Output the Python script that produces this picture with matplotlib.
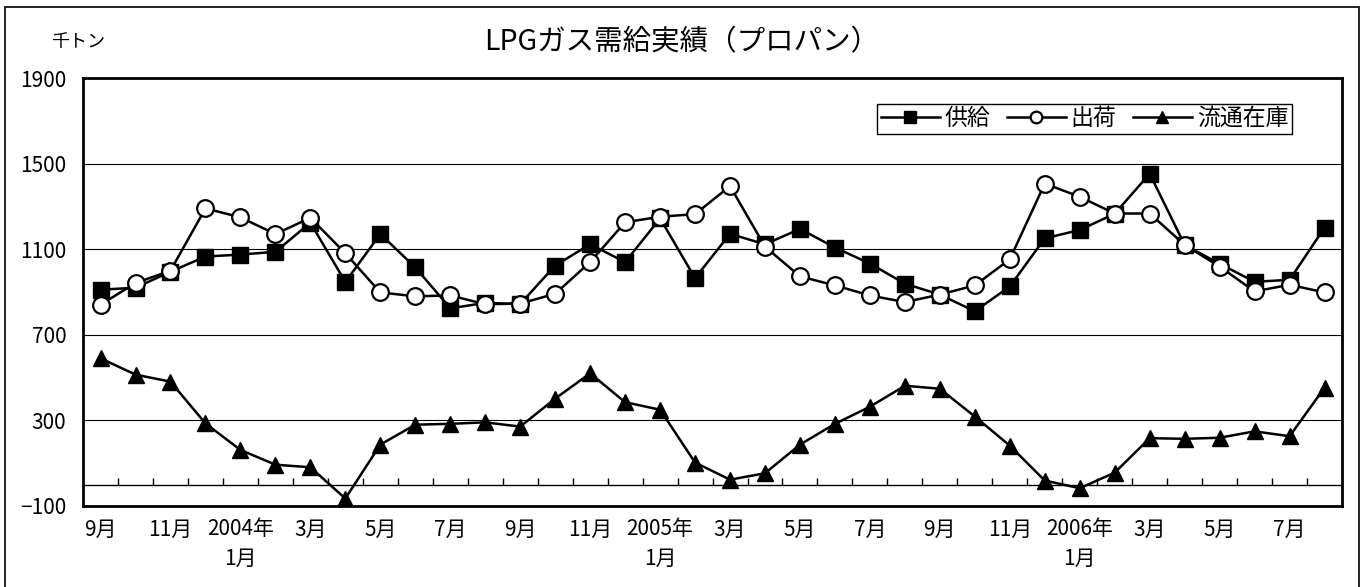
import matplotlib
matplotlib.use("Agg")
import matplotlib.pyplot as plt
from matplotlib.patches import Rectangle

plt.rcParams['font.family'] = ['Noto Sans CJK JP', 'DejaVu Sans']

# 2003年9月 ~ 2006年8月
meses = ['9月', '', '11月', '', '2004年\n1月', '', '3月', '', '5月', '', '7月', '',
         '9月', '', '11月', '', '2005年\n1月', '', '3月', '', '5月', '', '7月', '',
         '9月', '', '11月', '', '2006年\n1月', '', '3月', '', '5月', '', '7月', '']

kyokyu = [911, 920, 995, 1066, 1075, 1088, 1224, 947, 1171, 1015, 824, 849,
          844, 1024, 1123, 1040, 1244, 965, 1172, 1123, 1195, 1108, 1033, 939,
          888, 810, 926, 1151, 1190, 1266, 1453, 1120, 1032, 948, 957, 1201]

shukka = [841, 942, 1000, 1291, 1249, 1171, 1247, 1081, 898, 880, 884, 843,
          846, 892, 1040, 1226, 1252, 1264, 1395, 1112, 973, 931, 884, 853,
          888, 931, 1053, 1407, 1345, 1267, 1267, 1120, 1019, 903, 934, 898]

zaiko = [590, 514, 481, 286, 162, 93, 81, -65, 187, 280, 284, 291,
         271, 402, 520, 385, 350, 103, 23, 53, 187, 284, 364, 462,
         448, 318, 182, 19, -17, 56, 217, 214, 219, 249, 226, 453]

x = list(range(len(meses)))

fig = plt.figure(figsize=(13.64, 5.87), dpi=100)
ax = fig.add_axes([0.0609, 0.138, 0.9230, 0.729])

ax.plot(x, kyokyu, color='black', lw=1.8, marker='s', ms=12, mfc='black', mec='black', label='供給')
ax.plot(x, shukka, color='black', lw=1.8, marker='o', ms=12, mfc='white', mec='black', mew=1.6, label='出荷')
ax.plot(x, zaiko, color='black', lw=1.8, marker='^', ms=12, mfc='black', mec='black', label='流通在庫')

ax.set_xlim(-0.5, len(meses) - 0.5)
ax.set_ylim(-100, 1900)
ax.set_yticks([-100, 300, 700, 1100, 1500, 1900])
for g in [300, 700, 1100, 1500]:
    ax.axhline(g, color='black', lw=0.8, zorder=0)

ax.set_xticks(x)
ax.set_xticklabels(meses, linespacing=1.45)
ax.tick_params(axis='x', length=0, pad=9, labelsize=15)
ax.tick_params(axis='y', length=0, pad=12, labelsize=15)
for s in ax.spines.values():
    s.set_linewidth(2)

# eje en cero con marcas entre categorias
ax2 = ax.twiny()
ax2.set_xlim(ax.get_xlim())
ax2.spines['bottom'].set_position(('data', 0))
ax2.spines['bottom'].set_linewidth(1)
for lado in ['top', 'left', 'right']:
    ax2.spines[lado].set_visible(False)
ax2.xaxis.set_ticks_position('bottom')
ax2.set_xticks([i + 0.5 for i in x[:-1]])
ax2.tick_params(axis='x', direction='in', length=5, width=1, labelbottom=False, labeltop=False)

leg = ax.legend(loc='upper right', bbox_to_anchor=(0.960, 0.940), ncol=3, fontsize=16.5,
                frameon=True, fancybox=False, edgecolor='black', framealpha=1,
                handlelength=2.6, handletextpad=0.2, columnspacing=0.7,
                borderpad=0.15, borderaxespad=0, markerscale=0.7)
leg.get_frame().set_linewidth(1)

fig.text(0.5, 0.928, 'LPGガス需給実績（プロパン）', ha='center', va='center', fontsize=20.5)
fig.text(0.057, 0.928, '千トン', ha='center', va='center', fontsize=13)

fig.patches.append(Rectangle((0.004, -0.05), 0.992, 1.038, transform=fig.transFigure,
                             fill=False, edgecolor='black', lw=1.2))

fig.savefig('out.png', dpi=100)
